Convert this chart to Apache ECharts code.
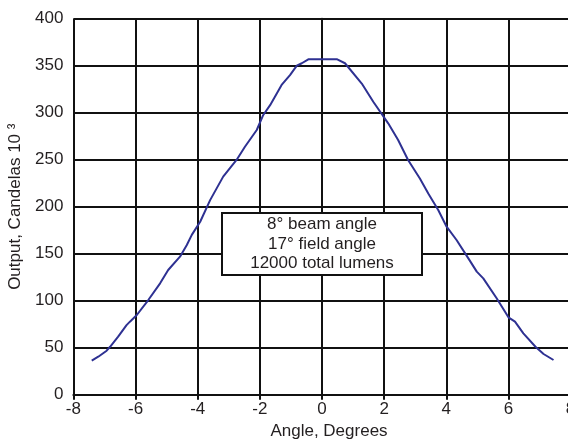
<!DOCTYPE html>
<html>
<head>
<meta charset="utf-8">
<script src="https://cdn.jsdelivr.net/npm/echarts@6/dist/echarts.min.js"></script>
<style>
html,body{margin:0;padding:0;background:#fff;}
#chart{width:568px;height:442px;}
</style>
</head>
<body>
<div id="chart"></div>
<script>
const angles = [-7.41,-7.2,-6.93,-6.82,-6.56,-6.29,-6.18,-5.96,-5.59,-5.21,-4.95,-4.57,-4.35,-4.19,-3.92,-3.6,-3.18,-2.75,-2.48,-2.1,-1.89,-1.67,-1.3,-1.03,-0.81,-0.65,-0.44,0.49,0.74,1.28,1.65,2.13,2.45,2.77,3.15,3.42,3.74,4.01,4.33,4.71,4.98,5.19,5.62,6.0,6.21,6.48,6.87,7.13,7.45];
const output = [36.2,40.4,46.8,51,61.7,74,77.7,84.8,100.7,118.5,132.7,146.8,159.3,170,184,207,232,249.7,263.8,281.6,297.6,308,329.5,340,350,352.6,356.8,356.8,352.6,331,311.7,288.7,271,249.7,230,214,196.5,178.7,164.6,145,130.9,123.8,102.6,82.3,77.7,65.3,51,43.3,36.9];
const xTicks = [-8,-6,-4,-2,0,2,4,6,8];
const yTicks = [0,50,100,150,200,250,300,350,400];
const boxLines = ['8° beam angle','17° field angle','12000 total lumens'];
const xTitle = 'Angle, Degrees';
const yTitle = 'Output, Candelas 10 ³';

const chart = echarts.init(document.getElementById('chart'), null, {renderer:'canvas'});
const font = 'Liberation Sans, Arial, sans-serif';
const txt = '#231f20';
chart.setOption({
  animation:false,
  backgroundColor:'#fff',
  title:{
    text:boxLines.join('\n'), left:294, top:213, z:20, textAlign:'center',
    padding:[2,28,2,28], borderWidth:2, borderColor:'#111', backgroundColor:'#ffffff',
    textStyle:{fontFamily:font, fontSize:17, fontWeight:'normal', color:txt, lineHeight:19.5}
  },
  grid:{left:73.4, top:18.7, width:497.2, height:376, containLabel:false, outerBoundsMode:'none'},
  xAxis:{
    type:'value', min:xTicks[0], max:xTicks[xTicks.length-1], interval:2,
    name:xTitle, nameLocation:'middle', nameGap:28,
    nameTextStyle:{fontFamily:font, fontSize:17, color:txt, padding:[0,0,0,14]},
    axisLine:{lineStyle:{color:'#111', width:2}},
    axisTick:{show:true, length:5, lineStyle:{color:'#111', width:2}},
    axisLabel:{fontFamily:font, fontSize:17, color:txt, margin:6, showMaxLabel:true, showMinLabel:true},
    splitLine:{show:true, lineStyle:{color:'#111', width:2}}
  },
  yAxis:{
    type:'value', min:yTicks[0], max:yTicks[yTicks.length-1], interval:50,
    name:yTitle, nameLocation:'middle', nameGap:48, nameRotate:90,
    nameTextStyle:{fontFamily:font, fontSize:17, color:txt},
    axisLine:{show:true, lineStyle:{color:'#111', width:2}},
    axisTick:{show:true, length:6, lineStyle:{color:'#111', width:2}},
    axisLabel:{fontFamily:font, fontSize:17, color:txt, margin:10},
    splitLine:{show:true, lineStyle:{color:'#111', width:2}}
  },
  series:[{
    type:'line', data:angles.map((a,i)=>[a,output[i]]),
    showSymbol:false, smooth:false,
    lineStyle:{color:'#2e3192', width:2}, z:3
  }]
});
</script>
</body>
</html>
